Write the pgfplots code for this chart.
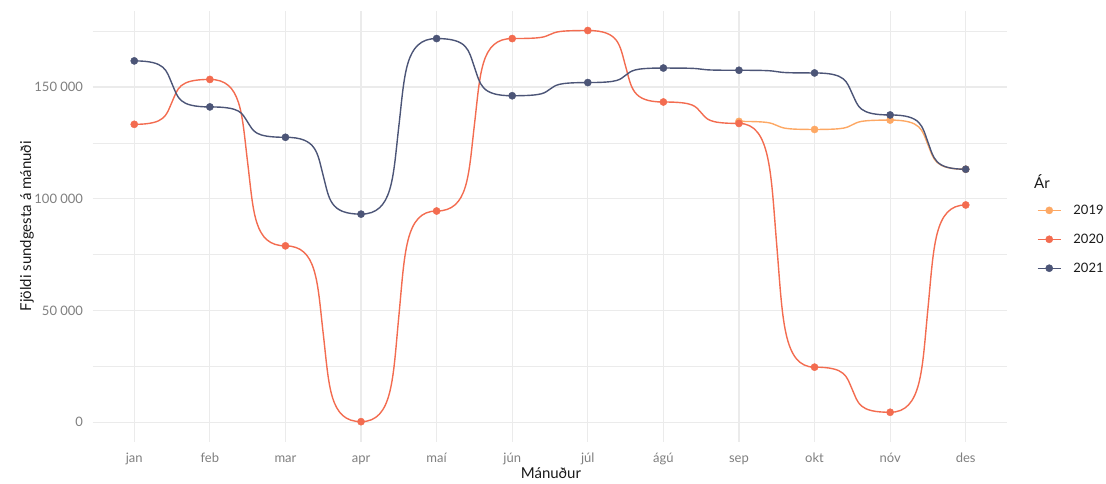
\documentclass[border=0pt]{standalone}
\usepackage{fontspec}
\setmainfont{Lato}
\usepackage{pgfplots}
\pgfplotsset{compat=1.18}
\definecolor{c2019}{HTML}{FDA864}
\definecolor{c2020}{HTML}{F36C50}
\definecolor{c2021}{HTML}{4C5577}
\definecolor{gridc}{HTML}{EBEBEB}
\definecolor{tickc}{HTML}{7F7F7F}
\definecolor{titc}{HTML}{1A1A1A}
\makeatletter
\newdimen\hs@X \newdimen\hs@Y \newdimen\hs@DX \newdimen\hs@DY
\newdimen\hs@MX \newdimen\hs@MY \newdimen\hs@A \newdimen\hs@B \newdimen\hs@C
\def\hsa{0.42}\def\hsb{0.08}\def\hsc{0.3}
\def\hs@discard#1{}
\def\pgfplothandlerhsmooth{%
  \def\pgf@plotstreamstart{%
    \global\let\pgf@plotstreampoint=\pgf@hs@first
    \global\let\pgf@plotstreamspecial=\hs@discard
    \global\let\pgf@plotstreamend=\relax}}
\def\pgf@hs@first#1{%
  \pgf@process{#1}%
  \xdef\pgf@hs@lastx{\the\pgf@x}\xdef\pgf@hs@lasty{\the\pgf@y}%
  \ifx\pgf@plot@first@action\@undefined\pgfpathmoveto{#1}\else\pgf@plot@first@action{#1}\fi
  \global\let\pgf@plotstreampoint=\pgf@hs@next}
\def\pgf@hs@next#1{%
  \pgf@process{#1}%
  \hs@X=\pgf@x \hs@Y=\pgf@y
  \hs@DX=\hs@X \advance\hs@DX by -\pgf@hs@lastx\relax
  \hs@DY=\hs@Y \advance\hs@DY by -\pgf@hs@lasty\relax
  \hs@MX=\pgf@hs@lastx\relax \advance\hs@MX by 0.5\hs@DX
  \hs@MY=\pgf@hs@lasty\relax \advance\hs@MY by 0.5\hs@DY
  \hs@A=\hsa\hs@DX \hs@B=\hsb\hs@DX \hs@C=\hsc\hs@DY
  \edef\hs@argsA{{\noexpand\pgfqpoint{\the\dimexpr\pgf@hs@lastx+\hs@A\relax}{\pgf@hs@lasty}}%
     {\noexpand\pgfqpoint{\the\dimexpr\hs@MX-\hs@B\relax}{\the\dimexpr\hs@MY-\hs@C\relax}}%
     {\noexpand\pgfqpoint{\the\hs@MX}{\the\hs@MY}}}%
  \edef\hs@argsB{{\noexpand\pgfqpoint{\the\dimexpr\hs@MX+\hs@B\relax}{\the\dimexpr\hs@MY+\hs@C\relax}}%
     {\noexpand\pgfqpoint{\the\dimexpr\hs@X-\hs@A\relax}{\the\hs@Y}}%
     {\noexpand\pgfqpoint{\the\hs@X}{\the\hs@Y}}}%
  \expandafter\pgfpathcurveto\hs@argsA
  \expandafter\pgfpathcurveto\hs@argsB
  \xdef\pgf@hs@lastx{\the\hs@X}\xdef\pgf@hs@lasty{\the\hs@Y}}
\tikzset{hsmooth/.code={\def\tikz@plot@handler{\pgfplothandlerhsmooth}}}
\makeatother
\begin{document}
\begin{tikzpicture}
\path[use as bounding box] (0,0) rectangle (1106pt,483pt);
\begin{axis}[
  at={(92.7pt,41.3pt)}, anchor=south west,
  scale only axis, width=914.6pt, height=431pt,
  xmin=-0.55, xmax=11.55, ymin=-8770, ymax=184170,
  axis line style={draw=none},
  major tick length=0pt, minor tick length=0pt,
  tick style={draw=none},
  xtick={0,...,11},
  xticklabels={jan,feb,mar,apr,maí,jún,júl,ágú,sep,okt,nóv,des},
  ytick={0,50000,100000,150000},
  yticklabels={0,50 000,100 000,150 000},
  minor ytick={25000,75000,125000,175000},
  scaled y ticks=false,
  xmajorgrids, ymajorgrids, yminorgrids,
  major grid style={gridc, line width=1.1pt},
  minor grid style={gridc, line width=0.6pt},
  tick label style={font=\fontsize{13}{15}\selectfont, text=tickc},
  yticklabel style={inner sep=0pt, anchor=east, xshift=-9.5pt},
  xticklabel style={inner sep=0pt, anchor=base, yshift=-20.5pt},
  xlabel={Mánuður},
  ylabel={Fjöldi sundgesta á mánuði},
  label style={font=\fontsize{15}{18}\selectfont, text=titc},
  xlabel style={at={(axis description cs:0.501,-0.0726)}, anchor=center},
  ylabel style={at={(axis description cs:-0.0718,0.5)}, anchor=center},
  legend style={at={(axis description cs:1.0325,0.4696)}, anchor=west,
    draw=none, fill=none, inner sep=0pt, outer sep=0pt,
    font=\fontsize{13}{15}\selectfont, text=titc,
    nodes={inner sep=0pt}, row sep=18pt,
    /tikz/every odd column/.append style={column sep=12pt}},
  legend cell align=left,
  legend image code/.code={\draw[mark repeat=2,mark phase=2,#1] plot coordinates {(0pt,0pt)(11.5pt,0pt)(23pt,0pt)};},
  clip=false,
  every axis plot/.append style={hsmooth, line width=1.4pt, mark=*, mark size=3.6pt},
]
\addplot[c2019, mark options={fill=c2019, draw=c2019, line width=0.4pt}] coordinates {
  (8,134600) (9,131000) (10,135200) (11,113200)};
\addlegendentry{2019}
\addplot[c2020, mark options={fill=c2020, draw=c2020, line width=0.4pt}] coordinates {
  (0,133300) (1,153400) (2,78900) (3,200) (4,94500) (5,171700) (6,175300)
  (7,143300) (8,133700) (9,24600) (10,4400) (11,97200)};
\addlegendentry{2020}
\addplot[c2021, mark options={fill=c2021, draw=c2021, line width=0.4pt}] coordinates {
  (0,161700) (1,141100) (2,127500) (3,93100) (4,171700) (5,146100) (6,152000)
  (7,158500) (8,157500) (9,156300) (10,137500) (11,113200)};
\addlegendentry{2021}
\end{axis}
\node[anchor=west, inner sep=0pt, font=\fontsize{15}{18}\selectfont, text=titc] at (1034pt,301.5pt) {Ár};
\end{tikzpicture}
\end{document}
